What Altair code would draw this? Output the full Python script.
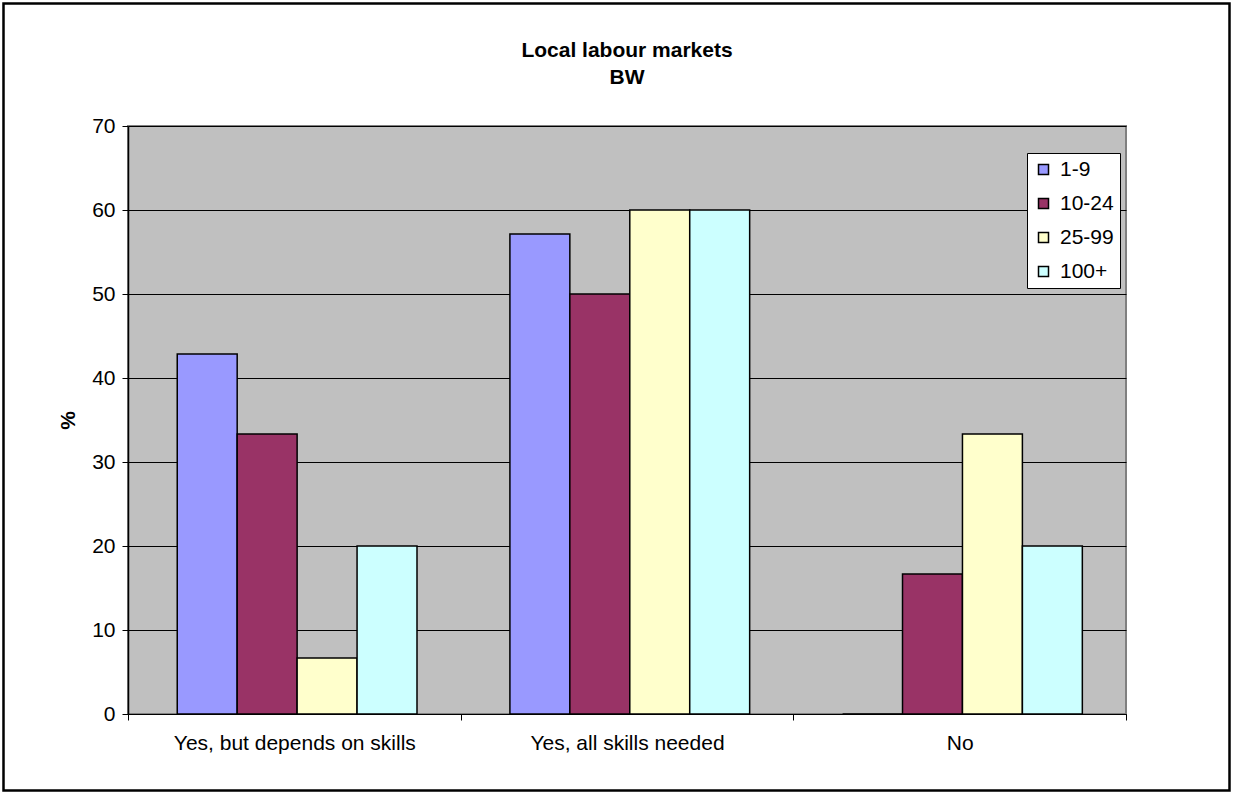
import altair as alt
import pandas as pd

categories = ["Yes, but depends on skills", "Yes, all skills needed", "No"]
sizes = ["1-9", "10-24", "25-99", "100+"]
values_1_9 = [42.86, 57.14, 0.0]
values_10_24 = [33.33, 50.0, 16.67]
values_25_99 = [6.67, 60.0, 33.33]
values_100 = [20.0, 60.0, 20.0]
colors = ["#9999FF", "#993366", "#FFFFCC", "#CCFFFF"]
y_ticks = [0, 10, 20, 30, 40, 50, 60, 70]
title_lines = ["Local labour markets", "BW"]

series = [values_1_9, values_10_24, values_25_99, values_100]
rows = []
for s, vals in zip(sizes, series):
    for c, v in zip(categories, vals):
        rows.append({"category": c, "size": s, "value": v})
df = pd.DataFrame(rows)

FONT = "Liberation Sans"
W, H = 998, 588
LEFT, TOP = 128, 126

bars = alt.Chart(df).mark_bar(stroke="black", strokeWidth=1.5).encode(
    x=alt.X("category:N", sort=categories, title=None,
            scale=alt.Scale(paddingInner=0, paddingOuter=0),
            axis=alt.Axis(labelAngle=0, tickBand="extent", labelFontSize=21,
                          labelFont=FONT, labelColor="black", labelPadding=12,
                          labelLimit=0,
                          tickColor="black", tickSize=6, domainColor="black",
                          domainWidth=1, grid=False)),
    xOffset=alt.XOffset("size:N", sort=sizes,
                        scale=alt.Scale(paddingInner=0, paddingOuter=0.775, align=0.53)),
    y=alt.Y("value:Q", title="%",
            scale=alt.Scale(domain=[0, 70], nice=False),
            axis=alt.Axis(values=y_ticks, labelFontSize=21, labelFont=FONT,
                          labelColor="black", labelPadding=7, tickSize=6,
                          tickColor="black", domainColor="black", domainWidth=1.5,
                          gridColor="black", gridWidth=1,
                          titleFont=FONT, titleFontSize=21, titleFontWeight="bold",
                          titleColor="black", titlePadding=13)),
    color=alt.Color("size:N", sort=sizes,
                    scale=alt.Scale(domain=sizes, range=colors),
                    legend=alt.Legend(title=None, orient="none", legendX=899, legendY=27,
                                      symbolType="square", symbolSize=100,
                                      symbolStrokeColor="black", symbolStrokeWidth=1.5,
                                      labelFontSize=21, labelFont=FONT, labelColor="black",
                                      labelOffset=6, rowPadding=12, padding=6,
                                      fillColor="white", strokeColor="black",
                                      labelLimit=200)),
)

title_df = pd.DataFrame({"text": title_lines, "line": [0, 1]})
title1 = alt.Chart(title_df).transform_filter("datum.line == 0").mark_text(
    font=FONT, fontSize=21, fontWeight="bold", color="black", align="center",
    baseline="alphabetic"
).encode(text="text:N", x=alt.value(627 - LEFT), y=alt.value(57 - TOP))
title2 = alt.Chart(title_df).transform_filter("datum.line == 1").mark_text(
    font=FONT, fontSize=21, fontWeight="bold", color="black", align="center",
    baseline="alphabetic"
).encode(text="text:N", x=alt.value(627 - LEFT), y=alt.value(84 - TOP))

border = alt.Chart(alt.Data(values=[{}])).mark_rect(
    filled=False, stroke="black", strokeWidth=2.5
).encode(
    x=alt.value(3.5 - LEFT), x2=alt.value(1229.5 - LEFT),
    y=alt.value(3.5 - TOP), y2=alt.value(790.5 - TOP),
)

chart = alt.layer(bars, title1, title2, border).properties(
    width=W, height=H,
    autosize=alt.AutoSizeParams(type="none"),
    padding={"left": LEFT, "top": TOP, "right": 1233 - LEFT - W, "bottom": 794 - TOP - H},
    background="white",
).configure_view(
    fill="#C0C0C0", stroke="#808080", strokeWidth=2
)

chart.save("out.html", embed_options={"renderer": "svg", "actions": False})
